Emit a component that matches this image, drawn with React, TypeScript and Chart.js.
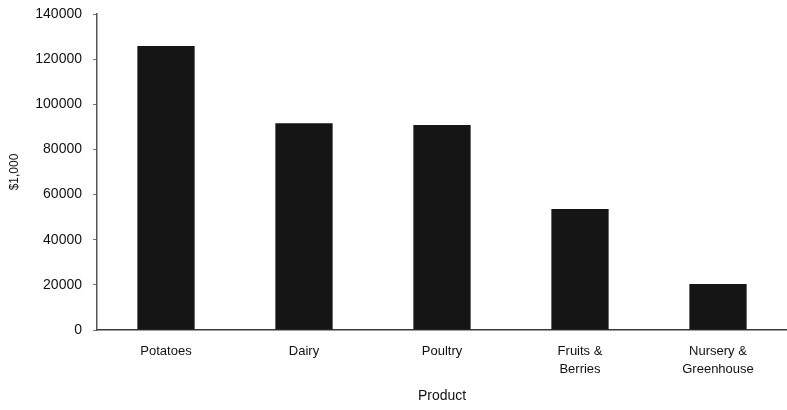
import React, { useEffect, useRef } from "react";
import { Chart, registerables } from "chart.js";

Chart.register(...registerables);

// Farm product values, in $1,000
const categories: (string | string[])[] = [
  "Potatoes",
  "Dairy",
  "Poultry",
  ["Fruits &", "Berries"],
  ["Nursery &", "Greenhouse"],
];
const values: number[] = [125800, 91600, 90800, 53600, 20400];
const yTicks: number[] = [0, 20000, 40000, 60000, 80000, 100000, 120000, 140000];

const FONT = "'Liberation Sans', Arial, Helvetica, sans-serif";

export default function App() {
  const canvasRef = useRef<HTMLCanvasElement | null>(null);

  useEffect(() => {
    document.body.style.margin = "0";
    const canvas = canvasRef.current;
    if (!canvas) return;
    const ctx = canvas.getContext("2d") as any;
    if (ctx && "letterSpacing" in ctx) ctx.letterSpacing = "0.6px";
    const chart = new Chart(canvas, {
      type: "bar",
      data: {
        labels: categories,
        datasets: [
          {
            data: values,
            backgroundColor: "#151515",
            borderWidth: 0,
            barPercentage: 0.415,
            categoryPercentage: 1,
          },
        ],
      },
      options: {
        responsive: false,
        animation: false,
        devicePixelRatio: 1,
        layout: { padding: { top: 14, left: 0, right: 0, bottom: 0 } },
        plugins: {
          legend: { display: false },
          tooltip: { enabled: false },
        },
        scales: {
          x: {
            offset: true,
            grid: { display: true, drawOnChartArea: false, drawTicks: false },
            border: { display: true, color: "#3a3a3a", width: 1.5 },
            ticks: {
              color: "#111",
              padding: 12,
              font: { family: FONT, size: 13, lineHeight: 1.4 },
              maxRotation: 0,
              autoSkip: false,
            },
            title: {
              display: true,
              text: "Product",
              color: "#111",
              font: { family: FONT, size: 14 },
              padding: { top: 5, bottom: 5 },
            },
            afterFit: (scale: any) => {
              scale.height = 80;
              scale.paddingLeft = 0;
              scale.paddingRight = 0;
            },
          },
          y: {
            min: 0,
            max: 140000,
            afterBuildTicks: (scale: any) => {
              scale.ticks = yTicks.map((v) => ({ value: v }));
            },
            grid: {
              display: true,
              drawOnChartArea: false,
              drawTicks: true,
              tickLength: 4,
              color: "#777",
            },
            border: { display: true, color: "#555", width: 1.5 },
            ticks: {
              color: "#111",
              padding: 11,
              font: { family: FONT, size: 14 },
              callback: (v: any) => String(v),
            },
            title: {
              display: true,
              text: "$1,000",
              color: "#111",
              font: { family: FONT, size: 12 },
              padding: { top: 7, bottom: 7 },
            },
            afterFit: (scale: any) => {
              scale.width = 97;
              scale.paddingTop = 0;
              scale.paddingBottom = 0;
            },
          },
        },
      },
    });
    return () => chart.destroy();
  }, []);

  return (
    <div style={{ position: "absolute", left: 0, top: 0, width: 787, height: 410, background: "#fff" }}>
      <canvas ref={canvasRef} width={787} height={410} />
    </div>
  );
}
